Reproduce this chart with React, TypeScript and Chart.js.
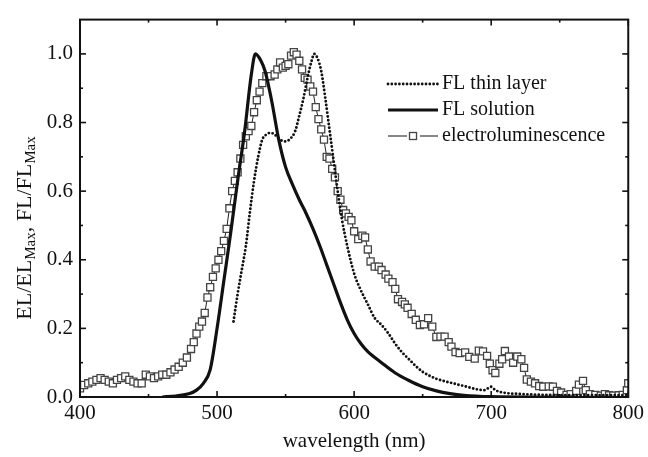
import { useEffect, useRef } from "react";
import { Chart, registerables } from "chart.js";

Chart.register(...registerables);

// ---------- data ----------
const solutionX = [460, 470, 480, 485, 490, 495, 500, 505, 510, 515, 520, 525, 528, 532, 535, 540, 545, 550, 555, 560, 565, 570, 575, 580, 585, 590, 595, 600, 605, 610, 620, 630, 640, 650, 660, 670, 680, 700, 730, 760];
const solutionY = [0, 0.003, 0.01, 0.02, 0.04, 0.08, 0.2, 0.34, 0.48, 0.63, 0.77, 0.94, 1.0, 0.98, 0.95, 0.86, 0.75, 0.67, 0.62, 0.575, 0.535, 0.49, 0.44, 0.385, 0.33, 0.275, 0.225, 0.185, 0.155, 0.132, 0.1, 0.07, 0.048, 0.03, 0.018, 0.01, 0.005, 0.001, 0, 0];

const thinX = [512, 515, 518, 521, 524, 527, 530, 533, 536, 539, 542, 546, 550, 554, 557, 560, 563, 566, 569, 571, 573, 576, 579, 582, 585, 588, 591, 595, 600, 605, 610, 615, 620, 625, 630, 635, 640, 645, 650, 655, 660, 665, 670, 680, 690, 695, 700, 703, 710, 720, 740, 760, 780, 800];
const thinY = [0.22, 0.3, 0.37, 0.44, 0.54, 0.63, 0.7, 0.75, 0.765, 0.77, 0.765, 0.75, 0.745, 0.755, 0.775, 0.82, 0.87, 0.93, 0.98, 1.0, 0.99, 0.95, 0.87, 0.78, 0.69, 0.6, 0.52, 0.44, 0.36, 0.31, 0.27, 0.23, 0.21, 0.185, 0.155, 0.13, 0.11, 0.09, 0.073, 0.062, 0.053, 0.047, 0.042, 0.032, 0.022, 0.02, 0.03, 0.02, 0.012, 0.009, 0.006, 0.005, 0.005, 0.005];

const elX = [400, 403, 406, 409, 412, 415, 418, 421, 424, 427, 430, 433, 436, 439, 442, 445, 448, 451, 454, 457, 460, 463, 466, 469, 472, 475, 478, 481, 483, 485, 487, 489, 491, 493, 495, 497, 499, 501, 503, 505, 507, 509, 511, 513, 515, 517, 519, 521, 523, 525, 527, 529, 531, 533, 536, 539, 542, 544, 546, 548, 550, 552, 554, 556, 558, 560, 562, 564, 566, 568, 570, 572, 574, 576, 578, 580, 582, 584, 586, 588, 590, 592, 594, 596, 598, 600, 603, 606, 608, 610, 612, 615, 618, 620, 623, 625, 628, 630, 632, 635, 637, 639, 642, 645, 648, 651, 654, 657, 660, 663, 666, 669, 671, 674, 677, 681, 684, 688, 691, 694, 697, 699, 701, 703, 706, 708, 710, 713, 716, 719, 722, 724, 726, 729, 732, 735, 738, 742, 745, 748, 751, 755, 758, 762, 764, 767, 769, 772, 776, 780, 783, 786, 789, 793, 796, 799, 800];
const elY = [0.025, 0.035, 0.04, 0.045, 0.05, 0.055, 0.05, 0.045, 0.04, 0.05, 0.055, 0.06, 0.05, 0.045, 0.04, 0.04, 0.065, 0.06, 0.055, 0.06, 0.065, 0.065, 0.072, 0.08, 0.088, 0.1, 0.115, 0.14, 0.16, 0.185, 0.205, 0.22, 0.245, 0.29, 0.32, 0.35, 0.375, 0.4, 0.425, 0.455, 0.49, 0.55, 0.6, 0.63, 0.655, 0.695, 0.735, 0.76, 0.775, 0.79, 0.83, 0.865, 0.89, 0.915, 0.935, 0.935, 0.94, 0.955, 0.975, 0.96, 0.965, 0.97, 0.995, 1.005, 0.998, 0.98, 0.955, 0.93, 0.925, 0.905, 0.89, 0.845, 0.81, 0.78, 0.75, 0.7, 0.695, 0.665, 0.64, 0.6, 0.575, 0.545, 0.535, 0.525, 0.515, 0.483, 0.46, 0.47, 0.465, 0.43, 0.395, 0.38, 0.38, 0.37, 0.357, 0.345, 0.335, 0.315, 0.285, 0.277, 0.27, 0.26, 0.242, 0.225, 0.21, 0.212, 0.23, 0.205, 0.175, 0.176, 0.176, 0.16, 0.147, 0.131, 0.128, 0.13, 0.117, 0.112, 0.135, 0.133, 0.12, 0.097, 0.078, 0.07, 0.097, 0.11, 0.134, 0.118, 0.1, 0.118, 0.11, 0.085, 0.051, 0.045, 0.04, 0.032, 0.03, 0.031, 0.03, 0.018, 0.013, 0.006, 0.008, 0.018, 0.036, 0.047, 0.02, 0.008, 0.006, 0.004, 0.008, 0.005, 0.004, 0.005, 0.006, 0.02, 0.04];

const legendLabels = ["FL thin layer", "FL solution", "electroluminescence"];
const xMajorTicks = [400, 500, 600, 700, 800];
const xMinorTicks = [450, 550, 650, 750];
const yMajorTicks = [0, 0.2, 0.4, 0.6, 0.8, 1.0];
const yMinorTicks = [0.1, 0.3, 0.5, 0.7, 0.9];
const xTitle = "wavelength (nm)";

const FONT = "'Liberation Serif', 'DejaVu Serif', serif";
const INK = "#111";

const toPts = (xs: number[], ys: number[]) => xs.map((x, i) => ({ x, y: ys[i] }));

const framePlugin = {
  id: "frame",
  afterDraw(chart: any) {
    const { ctx, chartArea: a, scales } = chart;
    const xs = scales.x;
    const ys = scales.y;
    ctx.save();
    ctx.strokeStyle = INK;
    ctx.lineWidth = 2;
    ctx.strokeRect(a.left, a.top, a.right - a.left, a.bottom - a.top);
    ctx.lineWidth = 1.6;
    const tick = (x1: number, y1: number, x2: number, y2: number) => {
      ctx.beginPath();
      ctx.moveTo(x1, y1);
      ctx.lineTo(x2, y2);
      ctx.stroke();
    };
    const drawX = (vals: number[], len: number) => {
      vals.forEach((v) => {
        const px = xs.getPixelForValue(v);
        tick(px, a.bottom, px, a.bottom - len);
        tick(px, a.top, px, a.top + len);
      });
    };
    const drawY = (vals: number[], len: number) => {
      vals.forEach((v) => {
        const py = ys.getPixelForValue(v);
        tick(a.left, py, a.left + len, py);
        tick(a.right, py, a.right - len, py);
      });
    };
    drawX(xMajorTicks, 6);
    drawX(xMinorTicks, 3);
    drawY(yMajorTicks, 6);
    drawY(yMinorTicks, 3);

    // x title
    ctx.fillStyle = INK;
    ctx.font = `21px ${FONT}`;
    ctx.textAlign = "center";
    ctx.textBaseline = "middle";
    ctx.fillText(xTitle, (a.left + a.right) / 2, 441);

    // y title with subscripts
    const parts: [string, boolean][] = [
      ["EL/EL", false],
      ["Max", true],
      [", FL/FL", false],
      ["Max", true],
    ];
    const mainF = `22px ${FONT}`;
    const subF = `15px ${FONT}`;
    let total = 0;
    parts.forEach(([t, s]) => {
      ctx.font = s ? subF : mainF;
      total += ctx.measureText(t).width;
    });
    ctx.translate(24, 228);
    ctx.rotate(-Math.PI / 2);
    ctx.textAlign = "left";
    ctx.textBaseline = "alphabetic";
    let cx = -total / 2;
    parts.forEach(([t, s]) => {
      ctx.font = s ? subF : mainF;
      ctx.fillText(t, cx, s ? 11 : 7);
      cx += ctx.measureText(t).width;
    });
    ctx.restore();

    // legend
    ctx.save();
    const lx1 = 388;
    const lx2 = 438;
    const rows = [84, 110, 136];
    ctx.strokeStyle = INK;
    ctx.lineCap = "round";
    // dotted
    ctx.lineWidth = 2.8;
    ctx.setLineDash([0, 3.8]);
    ctx.beginPath();
    ctx.moveTo(lx1, rows[0]);
    ctx.lineTo(lx2, rows[0]);
    ctx.stroke();
    ctx.setLineDash([]);
    // solid
    ctx.lineCap = "butt";
    ctx.lineWidth = 3.2;
    ctx.beginPath();
    ctx.moveTo(lx1, rows[1]);
    ctx.lineTo(lx2, rows[1]);
    ctx.stroke();
    // EL
    ctx.lineWidth = 1.2;
    ctx.beginPath();
    ctx.moveTo(lx1, rows[2]);
    ctx.lineTo(lx1 + 19, rows[2]);
    ctx.moveTo(lx2 - 18, rows[2]);
    ctx.lineTo(lx2, rows[2]);
    ctx.stroke();
    ctx.strokeStyle = "#444";
    ctx.lineWidth = 1.3;
    ctx.fillStyle = "#fff";
    ctx.fillRect(409.5, rows[2] - 3.5, 7, 7);
    ctx.strokeRect(409.5, rows[2] - 3.5, 7, 7);
    ctx.fillStyle = INK;
    ctx.font = `20px ${FONT}`;
    ctx.textAlign = "left";
    ctx.textBaseline = "middle";
    legendLabels.forEach((t, i) => ctx.fillText(t, 442, rows[i]));
    ctx.restore();
  },
};

export default function App() {
  const ref = useRef<HTMLCanvasElement | null>(null);
  useEffect(() => {
    if (!ref.current) return;
    const chart = new Chart(ref.current, {
      type: "line",
      data: {
        datasets: [
          {
            label: legendLabels[1],
            data: toPts(solutionX, solutionY),
            borderColor: INK,
            borderWidth: 3.2,
            pointRadius: 0,
            cubicInterpolationMode: "monotone",
            fill: false,
          },
          {
            label: legendLabels[0],
            data: toPts(thinX, thinY),
            borderColor: INK,
            borderWidth: 2.9,
            borderDash: [0, 3.8],
            borderCapStyle: "round",
            pointRadius: 0,
            cubicInterpolationMode: "monotone",
            fill: false,
          },
          {
            label: legendLabels[2],
            data: toPts(elX, elY),
            borderColor: "#222",
            borderWidth: 1,
            pointStyle: "rect",
            pointRadius: 5,
            pointBorderColor: "#444",
            pointBorderWidth: 1.3,
            pointBackgroundColor: "#fff",
            tension: 0,
            fill: false,
          },
        ],
      },
      options: {
        responsive: false,
        animation: false,
        layout: { padding: { left: 0, right: 17, top: 16, bottom: 0 } },
        plugins: { legend: { display: false }, tooltip: { enabled: false } },
        scales: {
          x: {
            type: "linear",
            min: 400,
            max: 800,
            grid: { display: false, drawTicks: false },
            border: { display: false },
            ticks: {
              stepSize: 100,
              padding: 4,
              color: INK,
              font: { family: FONT, size: 21 },
              maxRotation: 0,
            },
            afterFit: (s: any) => {
              s.height = 60;
            },
          },
          y: {
            type: "linear",
            min: 0,
            max: 1.1,
            grid: { display: false, drawTicks: false },
            border: { display: false },
            ticks: {
              stepSize: 0.2,
              includeBounds: false,
              padding: 7,
              color: INK,
              font: { family: FONT, size: 21 },
              callback: (v: any) => Number(v).toFixed(1),
            },
            afterFit: (s: any) => {
              s.width = 80;
            },
          },
        },
      },
      plugins: [framePlugin],
    } as any);
    return () => chart.destroy();
  }, []);
  return (
    <div style={{ position: "absolute", left: 0, top: 0, width: 648, height: 457, background: "#fff" }}>
      <canvas ref={ref} width={648} height={457} />
    </div>
  );
}
